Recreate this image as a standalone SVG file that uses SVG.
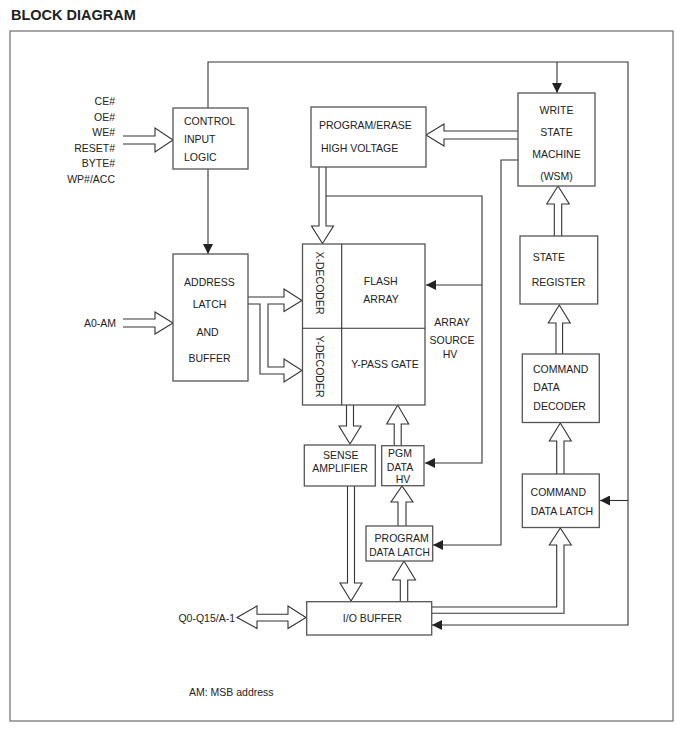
<svg xmlns="http://www.w3.org/2000/svg" width="684" height="736" viewBox="0 0 684 736">
<style>
text{font-family:"Liberation Sans",Arial,sans-serif;font-size:10.5px;fill:#222}
.c{text-anchor:middle}
.e{text-anchor:end}
.box{fill:#fff;stroke:#555;stroke-width:1.3}
.ln{fill:none;stroke:#333;stroke-width:1.1}
.ha{fill:#fff;stroke:#333;stroke-width:1.1;stroke-linejoin:miter}
</style>
<defs>
<marker id="ah" markerUnits="userSpaceOnUse" markerWidth="10" markerHeight="10" refX="10" refY="5" orient="auto">
<path d="M0,0 L10,5 L0,10 z" fill="#222"/>
</marker>
</defs>
<rect width="684" height="736" fill="#fff"/>
<text x="11" y="20" style="font-size:14.5px;font-weight:bold">BLOCK DIAGRAM</text>
<rect x="10" y="31" width="663" height="690" fill="none" stroke="#777" stroke-width="1.3"/>

<g id="connectors">
<path class="ln" d="M208,108 V62 H628 V625 H432" marker-end="url(#ah)"/>
<path class="ln" d="M557,62 V93" marker-end="url(#ah)"/>
<path class="ln" d="M628,500.5 H600" marker-end="url(#ah)"/>
<path class="ln" d="M208,169 V254" marker-end="url(#ah)"/>
<path class="ln" d="M518,160 H501 V545 H433" marker-end="url(#ah)"/>
<path class="ln" d="M326,196 H482 V463 H425" marker-end="url(#ah)"/>
<path class="ln" d="M482,285 H426" marker-end="url(#ah)"/>
<path class="ha" d="M123,136 H155 V128 L173,140 L155,152 V144 H123"/>
<path class="ha" d="M123,319 H155 V312 L173,323 L155,334 V327 H123"/>
<path class="ha" d="M518,131 H444 V124 L426,135 L444,146 V139 H518"/>
<path class="ha" d="M319,167 V226 H311.5 L322.5,243.5 L333.5,226 H326 V167"/>
<path class="ha" d="M248,297 H284 V289 L302,300.5 L284,311.5 V304 H268 V367 H284 V359 L302,370.5 L284,382 V374 H260 V304 H248"/>
<path class="ha" d="M346.5,405 V426 H339 L350,444 L361,426 H353.5 V405"/>
<path class="ha" d="M394.2,446 V424 H386.7 L397.7,405 L408.7,424 H401.2 V446"/>
<path class="ha" d="M347.5,486 V583 H340 L351,601 L362,583 H354.5 V486"/>
<path class="ha" d="M398,526 V502 H391 L402,486 L413,502 H406 V526"/>
<path class="ha" d="M400.3,602 V580 H392.5 L404,561 L415.5,580 H407.7 V602"/>
<path class="ha" d="M432,607 H556.7 V545 H549.3 L560.3,528 L571.3,545 H564 V613.3 H432"/>
<path class="ha" d="M556.7,474 V441 H549.3 L560.3,423 L571.3,441 H564 V474"/>
<path class="ha" d="M556,354 V323 H548.3 L559.3,305 L570.3,323 H562.6 V354"/>
<path class="ha" d="M554.3,236 V204 H546.7 L558,186 L569.3,204 H561.7 V236"/>
<path class="ha" d="M237,617.5 L257,606 V614.2 H288 V606 L306,617.5 L288,628.5 V621 H257 V628.5 Z"/>
</g>

<g id="inputs">
<text class="e" x="115" y="105">CE#</text>
<text class="e" x="115" y="121">OE#</text>
<text class="e" x="115" y="136">WE#</text>
<text class="e" x="115" y="152">RESET#</text>
<text class="e" x="115" y="167">BYTE#</text>
<text class="e" x="115" y="183">WP#/ACC</text>
</g>
<g id="a0am"><text class="e" x="116" y="327">A0-AM</text></g>
<g id="q0"><text class="e" x="235" y="622">Q0-Q15/A-1</text></g>
<g id="note"><text x="189" y="696">AM: MSB address</text></g>

<g id="control">
<rect class="box" x="173" y="108" width="75" height="61"/>
<text x="184" y="125">CONTROL</text>
<text x="184" y="143">INPUT</text>
<text x="184" y="161">LOGIC</text>
</g>
<g id="pe">
<rect class="box" x="311" y="107" width="115" height="60"/>
<text x="319" y="129">PROGRAM/ERASE</text>
<text x="321" y="152">HIGH VOLTAGE</text>
</g>
<g id="wsm">
<rect class="box" x="518" y="93" width="77" height="93"/>
<text class="c" x="556.5" y="114">WRITE</text>
<text class="c" x="556.5" y="136">STATE</text>
<text class="c" x="556.5" y="158">MACHINE</text>
<text class="c" x="556.5" y="180">(WSM)</text>
</g>
<g id="address">
<rect class="box" x="173" y="254" width="75" height="127"/>
<text class="c" x="209.5" y="286">ADDRESS</text>
<text class="c" x="209.5" y="308">LATCH</text>
<text class="c" x="207.5" y="336">AND</text>
<text class="c" x="209.5" y="362">BUFFER</text>
</g>
<g id="array">
<rect class="box" x="302.5" y="244" width="122.5" height="161"/>
<path class="ln" d="M341.7,244 V405 M302.5,328.3 H425" stroke="#555"/>
<text class="c" transform="translate(319.5,283) rotate(90)" y="3.8">X-DECODER</text>
<text class="c" transform="translate(319.5,366.5) rotate(90)" y="3.8">Y-DECODER</text>
<text class="c" x="380.7" y="285">FLASH</text>
<text class="c" x="381" y="303">ARRAY</text>
<text class="c" x="385" y="368">Y-PASS GATE</text>
</g>
<g id="srchv">
<text class="c" x="452" y="326">ARRAY</text>
<text class="c" x="452" y="344">SOURCE</text>
<text class="c" x="450" y="358">HV</text>
</g>
<g id="sreg">
<rect class="box" x="520" y="236" width="77.7" height="68"/>
<text x="532.7" y="261">STATE</text>
<text x="531.7" y="286">REGISTER</text>
</g>
<g id="cdd">
<rect class="box" x="522.3" y="354" width="77" height="68.5"/>
<text x="533" y="373">COMMAND</text>
<text x="533.3" y="390.5">DATA</text>
<text x="533.3" y="410">DECODER</text>
</g>
<g id="cdl">
<rect class="box" x="522.3" y="474" width="77" height="53.5"/>
<text class="c" x="558.3" y="496">COMMAND</text>
<text class="c" x="562" y="514.5">DATA LATCH</text>
</g>
<g id="sense">
<rect class="box" x="304.3" y="445" width="71" height="41"/>
<text class="c" x="340.7" y="459">SENSE</text>
<text class="c" x="340" y="472">AMPLIFIER</text>
</g>
<g id="pgmhv">
<rect class="box" x="381.7" y="445.7" width="42.3" height="40"/>
<text class="c" x="400" y="457">PGM</text>
<text class="c" x="400" y="471">DATA</text>
<text class="c" x="403" y="483">HV</text>
</g>
<g id="pdl">
<rect class="box" x="366" y="526" width="66.7" height="35"/>
<text class="c" x="401.7" y="541.5">PROGRAM</text>
<text class="c" x="399.5" y="556" style="font-size:10.2px">DATA LATCH</text>
</g>
<g id="io">
<rect class="box" x="306.7" y="601.7" width="125" height="33.3"/>
<text class="c" x="372.3" y="622">I/O BUFFER</text>
</g>
</svg>
